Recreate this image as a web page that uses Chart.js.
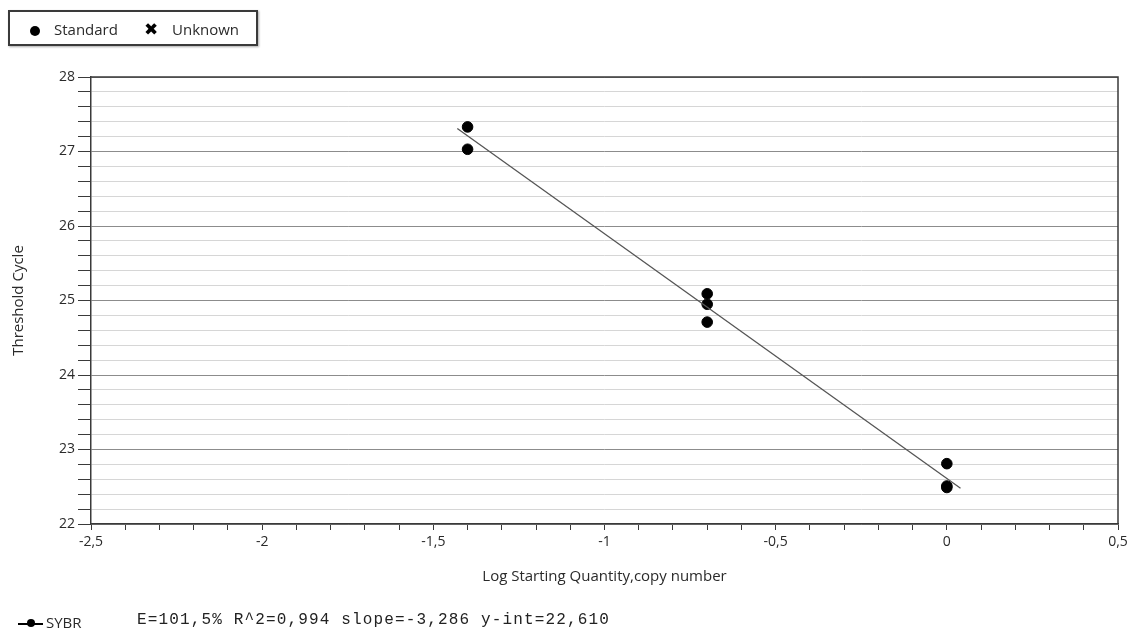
<!DOCTYPE html>
<html>
<head>
<meta charset="utf-8">
<script src="https://cdn.jsdelivr.net/npm/chart.js@4"></script>
<style>
html,body{margin:0;padding:0;background:#fff;}
#wrap{position:relative;width:1134px;height:632px;font-family:"Open Sans",sans-serif;color:#2a2a2a;}
#c{position:absolute;left:0;top:0;}
#lg{position:absolute;left:8px;top:10px;width:246px;height:32px;border:2px solid #3a3a3a;box-shadow:1px 1px 2px #aaa;font-size:15px;}
#lg .dot{position:absolute;left:20px;top:14px;width:10px;height:10px;border-radius:50%;background:#000;}
#lg .t1{position:absolute;left:44px;top:7px;}
#lg .x{position:absolute;left:134px;top:7px;font-family:"DejaVu Sans";font-size:17px;font-weight:bold;color:#000;}
#lg .t2{position:absolute;left:162px;top:7px;}
#ft{position:absolute;left:0;top:610px;width:720px;height:22px;font-size:15px;}
#ft .ln{position:absolute;left:18px;top:13px;width:25px;height:1.5px;background:#000;}
#ft .pt{position:absolute;left:27px;top:9px;width:8px;height:8px;border-radius:50%;background:#000;}
#ft .nm{position:absolute;left:46px;top:2px;}
#ft .st{position:absolute;left:137px;top:1px;font-family:"Liberation Mono",monospace;font-size:16px;letter-spacing:1.15px;color:#222;}
</style>
</head>
<body>
<div id="wrap">
<canvas id="c" width="1134" height="632"></canvas>
<div id="lg"><span class="dot"></span><span class="t1">Standard</span><span class="x">✖</span><span class="t2">Unknown</span></div>
<div id="ft"><span class="ln"></span><span class="pt"></span><span class="nm">SYBR</span><span class="st">E=101,5% R^2=0,994 slope=-3,286 y-int=22,610</span></div>
</div>
<script>
// standards: log quantity vs Ct
const stdX=[-1.4,-1.4,-0.7,-0.7,-0.7,0,0,0];
const stdY=[27.33,27.03,25.09,24.95,24.71,22.81,22.51,22.49];
// fitted line end points
const fitX=[-1.43,0.04];
const fitY=[27.31,22.48];
const xMin=-2.5,xMax=0.5,yMin=22,yMax=28;
const FONT='"Open Sans",sans-serif';
const DARK='#3a3a3a';
const TXT='#2a2a2a';

const frame={id:'frame',afterDraw(ch){const a=ch.chartArea,c=ch.ctx;c.save();c.strokeStyle=DARK;c.lineWidth=1.5;c.beginPath();c.moveTo(a.left,a.top);c.lineTo(a.right,a.top);c.lineTo(a.right,a.bottom);c.stroke();c.restore();}};

function isInt(v){return Math.abs(v-Math.round(v))<1e-6;}
function fmtX(v){if(Math.abs(v*2-Math.round(v*2))>1e-6)return '';const r=Math.round(v*2)/2;return String(r).replace('.',',');}

new Chart(document.getElementById('c'),{
  type:'scatter',
  data:{datasets:[
    {label:'fit',type:'line',data:fitX.map((x,i)=>({x,y:fitY[i]})),borderColor:'#555',borderWidth:1.3,pointRadius:0,fill:false},
    {label:'Standard',data:stdX.map((x,i)=>({x,y:stdY[i]})),backgroundColor:'#000',borderColor:'#000',pointRadius:5.3,pointHoverRadius:5.3}
  ]},
  options:{
    responsive:false,animation:false,
    layout:{padding:{left:6,top:77,right:16,bottom:42}},
    plugins:{legend:{display:false},tooltip:{enabled:false}},
    scales:{
      x:{type:'linear',min:xMin,max:xMax,
        afterFit(s){s.height=66;},
        ticks:{stepSize:0.1,autoSkip:false,maxRotation:0,padding:4,color:TXT,font:{family:FONT,size:14},callback:v=>fmtX(v)},
        grid:{drawOnChartArea:false,tickLength:6,tickColor:DARK},
        border:{color:DARK,width:1.5},
        title:{display:true,text:'Log Starting Quantity,copy number',color:TXT,font:{family:FONT,size:15}}},
      y:{type:'linear',min:yMin,max:yMax,
        afterFit(s){s.width=85;},
        ticks:{stepSize:0.2,autoSkip:false,padding:3,color:TXT,font:{family:FONT,size:14},callback:v=>isInt(v)?String(Math.round(v)):''},
        grid:{tickLength:13,tickColor:DARK,lineWidth:1,color:c=>isInt(c.tick.value)?'#8c8c8c':'#d6d6d6'},
        border:{color:DARK,width:1.5},
        title:{display:true,text:'Threshold Cycle',color:TXT,font:{family:FONT,size:15}}}
    }
  },
  plugins:[frame]
});
</script>
</body>
</html>
